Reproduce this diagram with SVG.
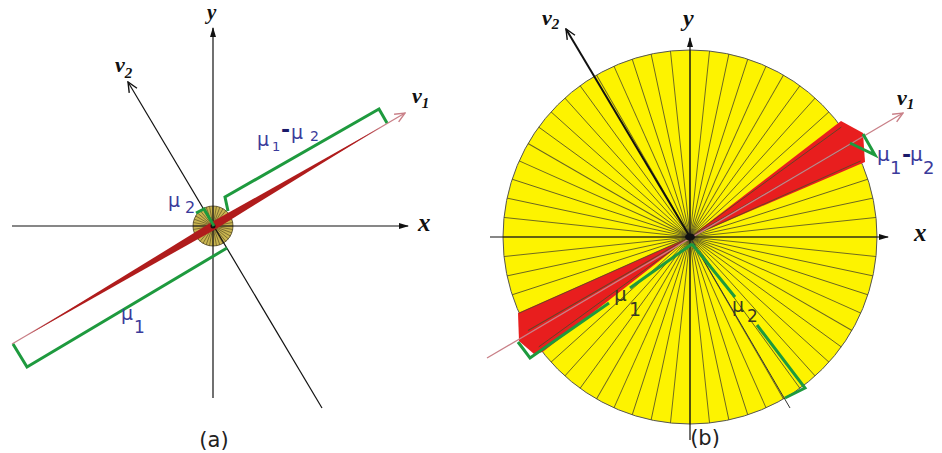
<svg xmlns="http://www.w3.org/2000/svg" width="942" height="453" viewBox="0 0 942 453">
<style>
.ax{font-family:"Liberation Serif","Times New Roman",serif;font-weight:bold;font-style:italic;fill:#111}
.mu{font-family:"DejaVu Sans",sans-serif;fill:#3b3b9b}
.mud{font-family:"DejaVu Sans",sans-serif;fill:#3a3a22}
.cap{font-family:"DejaVu Sans",sans-serif;font-size:21px;fill:#222}
.axis{stroke:#111;stroke-width:1.2;fill:none}
.v1{stroke:#c98088;stroke-width:1.3;fill:none}
.v2{stroke:#111;stroke-width:1.2;fill:none}
.br{stroke:#1e9a3e;stroke-width:3;fill:none;stroke-linejoin:miter}
.spb{stroke:#4d4a28;stroke-width:0.9;stroke-opacity:0.85}
.spa{stroke:#3d3515;stroke-width:0.5}
</style>
<defs>
<marker id="fa" viewBox="0 0 10 10" refX="9" refY="5" markerWidth="10" markerHeight="10" markerUnits="userSpaceOnUse" orient="auto"><path d="M0,2 L10,5 L0,8 z" fill="#111"/></marker>
<marker id="oa" viewBox="0 0 12 12" refX="11" refY="6" markerWidth="12" markerHeight="12" markerUnits="userSpaceOnUse" orient="auto"><path d="M1,1.5 L11,6 L1,10.5" fill="none" stroke="#111" stroke-width="1.4"/></marker>
<marker id="op" viewBox="0 0 12 12" refX="11" refY="6" markerWidth="12" markerHeight="12" markerUnits="userSpaceOnUse" orient="auto"><path d="M1,1.5 L11,6 L1,10.5" fill="none" stroke="#c98088" stroke-width="1.4"/></marker>
<line id="spB" x1="0" y1="0" x2="187" y2="0" class="spb"/>
<line id="spA" x1="0" y1="0" x2="20" y2="0" class="spa"/>
</defs>
<rect width="942" height="453" fill="#fff"/>

<g id="panel-a">
  <g id="disc-a">
    <circle cx="213" cy="226" r="20" fill="#c9b550" stroke="#4a4020" stroke-width="0.8"/>
    <g transform="translate(213 226)">
      <use href="#spA" transform="rotate(0)"/><use href="#spA" transform="rotate(10)"/><use href="#spA" transform="rotate(20)"/><use href="#spA" transform="rotate(30)"/><use href="#spA" transform="rotate(40)"/><use href="#spA" transform="rotate(50)"/><use href="#spA" transform="rotate(60)"/><use href="#spA" transform="rotate(70)"/><use href="#spA" transform="rotate(80)"/><use href="#spA" transform="rotate(90)"/><use href="#spA" transform="rotate(100)"/><use href="#spA" transform="rotate(110)"/><use href="#spA" transform="rotate(120)"/><use href="#spA" transform="rotate(130)"/><use href="#spA" transform="rotate(140)"/><use href="#spA" transform="rotate(150)"/><use href="#spA" transform="rotate(160)"/><use href="#spA" transform="rotate(170)"/><use href="#spA" transform="rotate(180)"/><use href="#spA" transform="rotate(190)"/><use href="#spA" transform="rotate(200)"/><use href="#spA" transform="rotate(210)"/><use href="#spA" transform="rotate(220)"/><use href="#spA" transform="rotate(230)"/><use href="#spA" transform="rotate(240)"/><use href="#spA" transform="rotate(250)"/><use href="#spA" transform="rotate(260)"/><use href="#spA" transform="rotate(270)"/><use href="#spA" transform="rotate(280)"/><use href="#spA" transform="rotate(290)"/><use href="#spA" transform="rotate(300)"/><use href="#spA" transform="rotate(310)"/><use href="#spA" transform="rotate(320)"/><use href="#spA" transform="rotate(330)"/><use href="#spA" transform="rotate(340)"/><use href="#spA" transform="rotate(350)"/>
    </g>
  </g>
  <g id="axes-a">
    <line class="axis" x1="12" y1="226" x2="408" y2="226" marker-end="url(#fa)"/>
    <line class="axis" x1="213" y1="398" x2="213" y2="28" marker-end="url(#fa)"/>
    <line class="v2" x1="322" y1="408" x2="128" y2="82" marker-end="url(#oa)"/>
    <line class="v1" x1="12" y1="344" x2="405" y2="113" marker-end="url(#op)"/>
    <polygon points="27.8,335.1 211,222.6 381,127 215,229.4" fill="#b01c1c"/>
    <circle cx="213" cy="226" r="2.5" fill="#111"/>
  </g>
  <g id="brackets-a">
    <path class="br" d="M228,211 L225,197 L379,109 L387,123"/>
    <path class="br" d="M227,248 L27,367 L13,344"/>
    <path class="br" d="M196,213 L204,209 L214,226"/>
  </g>
  <g id="labels-a">
    <text class="ax" x="207" y="19" font-size="21">y</text>
    <text class="ax" x="418" y="231" font-size="25">x</text>
    <text class="ax" x="412" y="103" font-size="22">v<tspan font-size="15" dy="5">1</tspan></text>
    <text class="ax" x="115" y="72" font-size="22">v<tspan font-size="15" dy="6">2</tspan></text>
    <text class="mu" font-size="19" x="168" y="207">μ<tspan font-size="16" x="185" y="213">2</tspan></text>
    <text class="mu" font-size="19" x="121" y="320">μ<tspan font-size="17" x="134" y="333">1</tspan></text>
    <text class="mu" font-size="19" x="257" y="146">μ<tspan font-size="13" x="272" y="151">1</tspan><tspan font-weight="bold" font-size="22" x="281" y="137" fill="#1a1a6a">-</tspan><tspan x="291" y="139">μ</tspan><tspan font-size="14" x="310" y="141">2</tspan></text>
    <text class="cap" x="214" y="447" text-anchor="middle">(a)</text>
  </g>
</g>

<g id="panel-b">
  <g id="disc-b">
    <circle cx="690" cy="237" r="187" fill="#fdf300" stroke="#555" stroke-width="1"/>
    <polygon points="690,237 841,121 863,133 865,162" fill="#e81e1e"/>
    <polygon points="690,237 518,313 519,341 534,354 542.6,352.1" fill="#e81e1e"/>
    <g transform="translate(690 237)">
      <use href="#spB" transform="rotate(0)"/><use href="#spB" transform="rotate(6)"/><use href="#spB" transform="rotate(12)"/><use href="#spB" transform="rotate(18)"/><use href="#spB" transform="rotate(24)"/><use href="#spB" transform="rotate(30)"/><use href="#spB" transform="rotate(36)"/><use href="#spB" transform="rotate(42)"/><use href="#spB" transform="rotate(48)"/><use href="#spB" transform="rotate(54)"/><use href="#spB" transform="rotate(60)"/><use href="#spB" transform="rotate(66)"/><use href="#spB" transform="rotate(72)"/><use href="#spB" transform="rotate(78)"/><use href="#spB" transform="rotate(84)"/><use href="#spB" transform="rotate(90)"/><use href="#spB" transform="rotate(96)"/><use href="#spB" transform="rotate(102)"/><use href="#spB" transform="rotate(108)"/><use href="#spB" transform="rotate(114)"/><use href="#spB" transform="rotate(120)"/><use href="#spB" transform="rotate(126)"/><use href="#spB" transform="rotate(132)"/><use href="#spB" transform="rotate(138)"/><use href="#spB" transform="rotate(144)"/><use href="#spB" transform="rotate(150)"/><use href="#spB" transform="rotate(156)"/><use href="#spB" transform="rotate(162)"/><use href="#spB" transform="rotate(168)"/><use href="#spB" transform="rotate(174)"/><use href="#spB" transform="rotate(180)"/><use href="#spB" transform="rotate(186)"/><use href="#spB" transform="rotate(192)"/><use href="#spB" transform="rotate(198)"/><use href="#spB" transform="rotate(204)"/><use href="#spB" transform="rotate(210)"/><use href="#spB" transform="rotate(216)"/><use href="#spB" transform="rotate(222)"/><use href="#spB" transform="rotate(228)"/><use href="#spB" transform="rotate(234)"/><use href="#spB" transform="rotate(240)"/><use href="#spB" transform="rotate(246)"/><use href="#spB" transform="rotate(252)"/><use href="#spB" transform="rotate(258)"/><use href="#spB" transform="rotate(264)"/><use href="#spB" transform="rotate(270)"/><use href="#spB" transform="rotate(276)"/><use href="#spB" transform="rotate(282)"/><use href="#spB" transform="rotate(288)"/><use href="#spB" transform="rotate(294)"/><use href="#spB" transform="rotate(300)"/><use href="#spB" transform="rotate(306)"/><use href="#spB" transform="rotate(312)"/><use href="#spB" transform="rotate(318)"/><use href="#spB" transform="rotate(324)"/><use href="#spB" transform="rotate(330)"/><use href="#spB" transform="rotate(336)"/><use href="#spB" transform="rotate(342)"/><use href="#spB" transform="rotate(348)"/><use href="#spB" transform="rotate(354)"/>
    </g>
  </g>
  <g id="axes-b">
    <line class="axis" x1="490" y1="237" x2="888" y2="237" marker-end="url(#fa)"/>
    <line class="axis" x1="690" y1="440" x2="690" y2="38" marker-end="url(#fa)"/>
    <line x1="790" y1="408" x2="690" y2="237" stroke="#333" stroke-width="1"/>
    <line x1="690" y1="237" x2="566" y2="29" stroke="#111" stroke-width="2" marker-end="url(#oa)"/>
    <line class="v1" x1="487" y1="358" x2="903" y2="113" marker-end="url(#op)"/>
    <ellipse cx="690" cy="237" rx="5" ry="3.5" fill="#111"/>
  </g>
  <g id="brackets-b">
    <path class="br" d="M692,244 L630,288"/>
    <path class="br" d="M609,303 L530,358 L518,342"/>
    <path class="br" d="M692,244 L735,297"/>
    <path class="br" d="M757,325 L805,388 L785,398"/>
    <path class="br" d="M850,143 L875,155 L863,134"/>
  </g>
  <g id="labels-b">
    <text class="ax" x="683" y="26" font-size="24">y</text>
    <text class="ax" x="914" y="241" font-size="25">x</text>
    <text class="ax" x="897" y="105" font-size="22">v<tspan font-size="15" dy="4">1</tspan></text>
    <text class="ax" x="542" y="25" font-size="22">v<tspan font-size="15" dy="4">2</tspan></text>
    <text class="mu" font-size="20" x="877" y="161">μ<tspan font-size="18" x="890" y="174">1</tspan><tspan font-weight="bold" font-size="22" x="902" y="162" fill="#1a1a6a">-</tspan><tspan x="910" y="161">μ</tspan><tspan font-size="18" x="923" y="174">2</tspan></text>
    <text class="mud" font-size="20" x="614" y="301">μ<tspan font-size="19" x="629" y="316">1</tspan></text>
    <text class="mud" font-size="19" x="732" y="312">μ<tspan font-size="17" x="747" y="322">2</tspan></text>
    <text class="cap" x="705" y="445" text-anchor="middle">(b)</text>
  </g>
</g>
</svg>
